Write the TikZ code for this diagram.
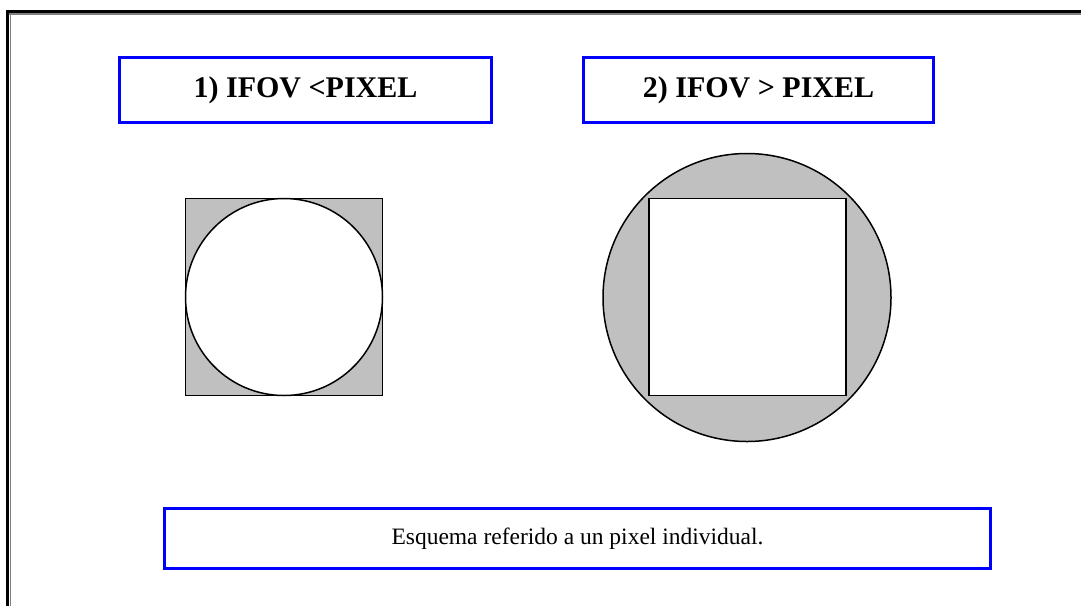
\documentclass[tikz,border=0pt]{standalone}
\usepackage{fontspec}
\setmainfont{Liberation Serif}
\definecolor{pixgray}{RGB}{192,192,192}
\definecolor{framegray}{RGB}{128,128,128}
\definecolor{boxblue}{RGB}{0,0,255}
\begin{document}
\begin{tikzpicture}[x=1pt,y=-1pt,
      titlebox/.style = {draw=boxblue, line width=3pt, fill=white, inner sep=0pt,
                         minimum height=65pt, font=\fontsize{30}{35}\selectfont\bfseries},
      pixsquare/.style = {draw, line width=1.5pt, inner sep=0pt, minimum size=197pt},
      ifovcircle/.style = {draw, circle, line width=1.5pt, inner sep=0pt}]
      \useasboundingbox (0,0) rectangle (1081,606);
      \fill[white] (0,0) rectangle (1081,606);

      % frame
      \draw[line width=3pt] (7.5,10) -- (7.5,606);
      \draw[line width=3pt] (6,11.5) -- (1081,11.5);
      \draw[framegray, line width=1.5pt] (10.5,13) -- (10.5,606);
      \draw[framegray, line width=1.5pt] (9,14) -- (1081,14);

      \node[titlebox, minimum width=372pt] (t1) at (305.5,90) {1) IFOV <PIXEL};
      \node[titlebox, minimum width=350pt] (t2) at (758.5,90) {2) IFOV > PIXEL};

      % IFOV < pixel
      \node[pixsquare, fill=pixgray] (p1) at (284,297) {};
      \node[ifovcircle, fill=white, minimum size=197pt] (c1) at (p1.center) {};

      % IFOV > pixel
      \node[ifovcircle, fill=pixgray, minimum size=288pt] (c2) at (747,297.5) {};
      \node[pixsquare, fill=white] (p2) at (747.5,297) {};

      \node[titlebox, minimum width=826pt, minimum height=60pt,
            font=\fontsize{23.5}{28}\selectfont] (cap) at (577.5,538.5)
            {Esquema referido a un pixel individual.};
\end{tikzpicture}
\end{document}
